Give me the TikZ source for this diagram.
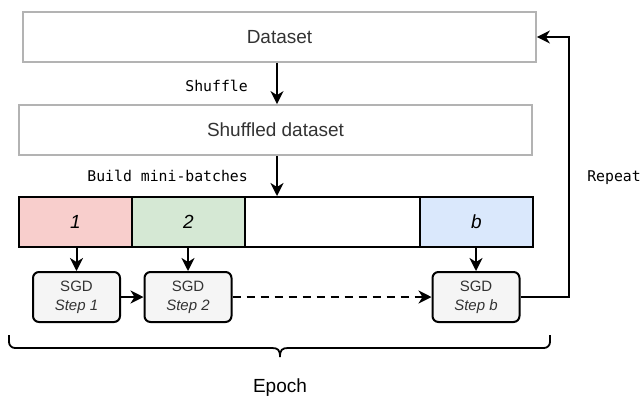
\documentclass[tikz,border=0pt]{standalone}
\usepackage{fontspec}
\setmainfont{Liberation Sans}
\newfontfamily\monof{DejaVu Sans Mono}
\usetikzlibrary{arrows.meta}
\definecolor{grayline}{HTML}{B3B3B3}
\definecolor{txt}{HTML}{333333}
\definecolor{redf}{HTML}{F8CECC}
\definecolor{greenf}{HTML}{D5E8D4}
\definecolor{bluef}{HTML}{DAE8FC}
\definecolor{sgdf}{HTML}{F5F5F5}
\begin{document}
\begin{tikzpicture}[x=1pt,y=-1pt,
  bigbox/.style={draw=grayline, line width=1.8pt, minimum width=513pt, minimum height=50pt, inner sep=0pt, text=txt, font=\fontsize{19}{22}\selectfont},
  seg/.style={draw=black, line width=2pt, minimum height=50pt, inner sep=0pt, font=\fontsize{19}{22}\selectfont\itshape},
  sgd/.style={draw=black, fill=sgdf, line width=2pt, rounded corners=6pt, minimum width=87pt, minimum height=50pt, inner sep=0pt, text=txt, align=center, font=\fontsize{15}{19}\selectfont},
  arr/.style={line width=2pt, -{Stealth[length=13pt,width=13pt,inset=4pt]}},
  bracestyle/.style={line width=1.8pt},
  mono/.style={font=\monof\fontsize{14.8}{17}\selectfont, inner sep=0pt}]
\useasboundingbox (0,0) rectangle (642,397);
\node[bigbox] (dataset) at (279.5,37) {Dataset};
\node[bigbox] (shuffled) at (275.5,130) {Shuffled dataset};
\node[seg, fill=redf, minimum width=113pt] (b1) at (75.5,222) {1};
\node[seg, fill=greenf, minimum width=113pt] (b2) at (188.5,222) {2};
\node[seg, fill=white, minimum width=175pt] (b3) at (332.5,222) {};
\node[seg, fill=bluef, minimum width=113pt] (bb) at (476.5,222) {b};
\node[sgd] (s1) at (76.5,297) {SGD\\\textit{Step 1}};
\node[sgd] (s2) at (188,297) {SGD\\\textit{Step 2}};
\node[sgd] (sb) at (476,297) {SGD\\\textit{Step b}};
\coordinate (ax) at (277,0);
\draw[arr] (dataset.south -| ax) -- (shuffled.north -| ax);
\draw[arr] (shuffled.south -| ax) -- (b3.north -| ax);
\node[mono, anchor=east] (lshuf) at (248,86) {Shuffle};
\node[mono, anchor=east] (lbuild) at (248,176) {Build mini-batches};
\draw[arr] (b1.south -| s1.north) -- (s1.north);
\draw[arr] (b2.south -| s2.north) -- (s2.north);
\draw[arr] (bb.south -| sb.north) -- (sb.north);
\draw[arr] (s1) -- (s2);
\draw[arr, dash pattern=on 8pt off 6pt] (s2) -- (sb);
\coordinate (rc) at (569,297);
\draw[arr] (sb.east) -- (rc) |- (dataset.east);
\node[mono] (lrep) at (614,178) {Repeat};
\draw[bracestyle, rounded corners=6pt] (9,335) -- (9,348) -- (272,348);
\draw[bracestyle] (272,348) .. controls (278,348) and (280,350) .. (280,357);
\draw[bracestyle] (288,348) .. controls (282,348) and (280,350) .. (280,357);
\draw[bracestyle, rounded corners=6pt] (288,348) -- (550,348) -- (550,335);
\node[font=\fontsize{19}{22}\selectfont] (epoch) at (280,388) {Epoch};
\end{tikzpicture}
\end{document}
